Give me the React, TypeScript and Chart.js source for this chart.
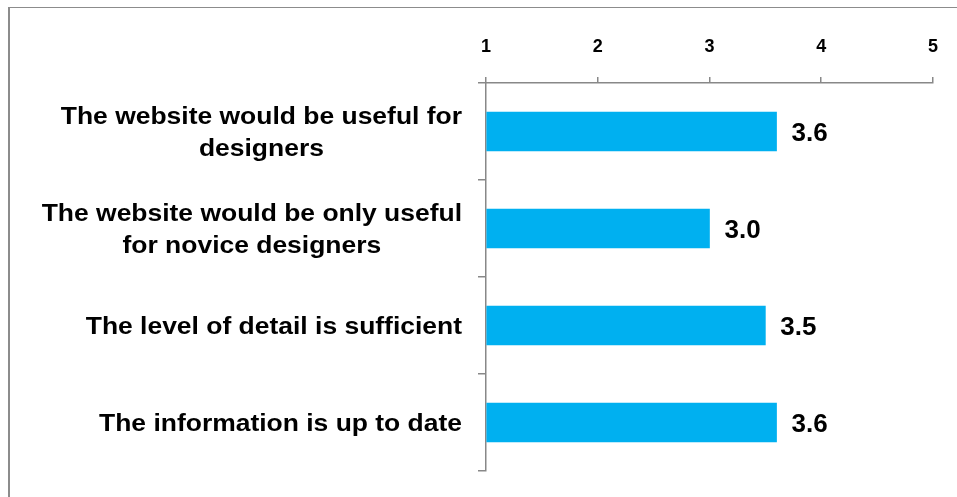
import { useEffect, useRef } from "react";
import { Chart, registerables } from "chart.js";

Chart.register(...registerables);

const categories: string[][] = [
  ["The website would be useful for", "designers"],
  ["The website would be only useful", "for novice designers"],
  ["The level of detail is sufficient"],
  ["The information is up to date"],
];
const values: number[] = [3.6, 3.0, 3.5, 3.6];
const xMin = 1;
const xMax = 5;

const FONT = "'Liberation Sans', Arial, sans-serif";

const categoryLabelPlugin = {
  id: "categoryLabels",
  afterDraw(chart: any) {
    const ctx = chart.ctx;
    const yScale = chart.scales.y;
    const right = chart.chartArea.left - 24;
    const lineH = 32;
    const sx = 1.15;
    ctx.save();
    ctx.font = `bold 23px ${FONT}`;
    ctx.fillStyle = "#000";
    ctx.textAlign = "center";
    ctx.textBaseline = "middle";
    categories.forEach((lines, i) => {
      const cy = yScale.getPixelForValue(i) + 2;
      const w = Math.max(...lines.map((l) => ctx.measureText(l).width)) * sx;
      const cx = right - w / 2;
      const y0 = cy - ((lines.length - 1) * lineH) / 2;
      lines.forEach((l, j) => {
        ctx.save();
        ctx.translate(cx, y0 + j * lineH);
        ctx.scale(sx, 1);
        ctx.fillText(l, 0, 0);
        ctx.restore();
      });
    });
    ctx.restore();
  },
};

const valueLabelPlugin = {
  id: "valueLabels",
  afterDatasetsDraw(chart: any) {
    const ctx = chart.ctx;
    const meta = chart.getDatasetMeta(0);
    ctx.save();
    ctx.font = `bold 26px ${FONT}`;
    ctx.fillStyle = "#000";
    ctx.textAlign = "left";
    ctx.textBaseline = "middle";
    meta.data.forEach((bar: any, i: number) => {
      ctx.fillText(values[i].toFixed(1), bar.x + 15, bar.y + 2);
    });
    ctx.restore();
  },
};

export default function App() {
  const ref = useRef<HTMLCanvasElement>(null);
  useEffect(() => {
    if (!ref.current) return;
    const chart = new Chart(ref.current, {
      type: "bar",
      data: {
        labels: categories.map((c) => c.join(" ")),
        datasets: [
          {
            data: values,
            backgroundColor: "#00B0F0",
            borderWidth: 0,
            barThickness: 39,
            base: xMin,
          } as any,
        ],
      },
      plugins: [categoryLabelPlugin, valueLabelPlugin],
      options: {
        indexAxis: "y",
        animation: false,
        responsive: false,
        layout: { padding: { left: 0, right: 23, top: 0, bottom: 26 } },
        plugins: {
          legend: { display: false },
          tooltip: { enabled: false },
        },
        scales: {
          x: {
            type: "linear",
            position: "top",
            min: xMin,
            max: xMax,
            ticks: {
              stepSize: 1,
              color: "#000",
              padding: 19,
              font: { family: FONT, size: 18, weight: "bold" },
            },
            grid: {
              drawOnChartArea: false,
              drawTicks: true,
              tickLength: 6,
              color: "#888",
              lineWidth: 1.5,
            },
            border: { color: "#888", width: 1.5 },
            afterFit: (s: any) => {
              s.height = 83;
            },
          },
          y: {
            type: "category",
            offset: true,
            ticks: { display: false },
            grid: {
              offset: true,
              drawOnChartArea: false,
              drawTicks: true,
              tickLength: 8,
              color: "#888",
              lineWidth: 1.5,
            },
            border: { color: "#888", width: 1.5 },
            afterFit: (s: any) => {
              s.width = 486;
            },
          },
        },
      } as any,
    });
    return () => chart.destroy();
  }, []);

  return (
    <div style={{ position: "fixed", left: 0, top: 0, width: 957, height: 497, overflow: "hidden", background: "#fff" }}>
      <div
        style={{
          position: "absolute",
          left: 8,
          top: 7,
          width: 1200,
          height: 1200,
          borderLeft: "2px solid #8c8c8c",
          borderTop: "1px solid #8c8c8c",
          boxSizing: "border-box",
        }}
      />
      <canvas ref={ref} width={957} height={497} style={{ position: "absolute", left: 0, top: 0 }} />
    </div>
  );
}
